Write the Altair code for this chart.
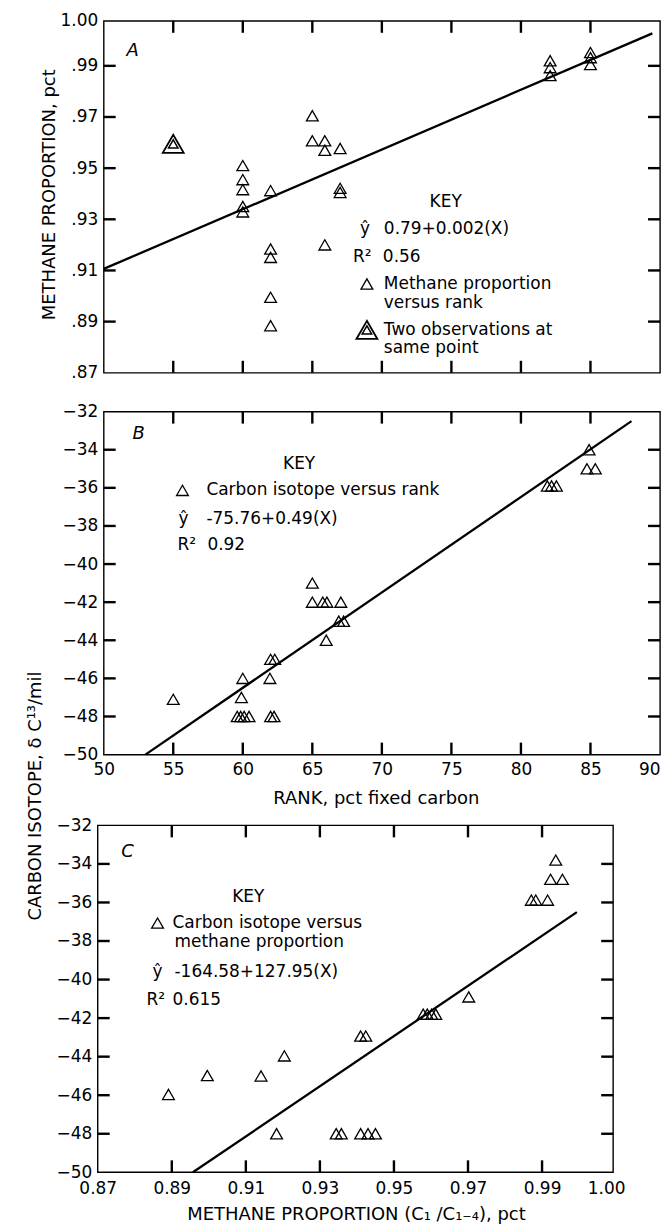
import json
import altair as alt
import pandas as pd

# ---------------- Panel A : methane proportion versus rank ----------------
a_rank = [60, 60, 60, 60, 60, 62, 62, 62, 62, 62, 65, 65, 65.9, 65.9, 65.9,
          67, 67, 67, 82.1, 82.1, 82.1, 85, 85, 85]
a_methane = [0.951, 0.9455, 0.9416, 0.935, 0.9329, 0.9412, 0.9184, 0.9151, 0.8995,
             0.8884, 0.9705, 0.9607, 0.9607, 0.957, 0.920, 0.9577, 0.9421, 0.9405,
             0.992, 0.9893, 0.9862, 0.9952, 0.9932, 0.9905]
a_double_rank = [55.0]
a_double_methane = [0.9595]
a_fit_rank = [50.0, 89.45]
a_fit_methane = [0.9106, 1.0027]
a_x_domain = [50, 90]
a_y_domain = [0.87, 1.0076]
a_y_ticks = [0.87, 0.89, 0.91, 0.93, 0.95, 0.97, 0.99, 1.0076]
a_y_labels = [".87", ".89", ".91", ".93", ".95", ".97", ".99", "1.00"]
a_x_inner = [55, 60, 65, 70, 75, 80, 85]
a_y_inner = [0.89, 0.91, 0.93, 0.95, 0.97, 0.99]

# ---------------- Panel B : carbon isotope versus rank ----------------
b_rank = [55, 60, 59.9, 59.6, 59.85, 60.1, 60.45, 62.0, 62.3, 61.95, 62.0, 62.25,
          65, 65, 65.75, 66.05, 67.05, 66.9, 67.25, 66.0, 81.9, 82.2, 82.55,
          84.9, 84.75, 85.35]
b_isotope = [-47.1, -46, -47, -48, -48, -48, -48, -45, -45, -46, -48, -48,
             -41, -42, -42, -42, -42, -43, -43, -44, -35.9, -35.9, -35.9,
             -34, -35, -35]
b_fit_rank = [53.0, 87.95]
b_fit_isotope = [-50.0, -32.5]
b_x_domain = [50, 90]
b_y_domain = [-50, -32]
b_x_ticks = [50, 55, 60, 65, 70, 75, 80, 85, 90]
b_y_ticks = [-50, -48, -46, -44, -42, -40, -38, -36, -34, -32]
b_x_inner = [55, 60, 65, 70, 75, 80, 85]
b_y_inner = [-48, -46, -44, -42, -40, -38, -36, -34]

# ---------------- Panel C : carbon isotope versus methane proportion ----------------
c_methane = [0.9937, 0.9923, 0.9955, 0.9871, 0.9883, 0.9915, 0.9702, 0.9579, 0.959,
             0.9602, 0.9613, 0.941, 0.9424, 0.9204, 0.8996, 0.9141, 0.8891, 0.9183,
             0.9344, 0.9358, 0.941, 0.943, 0.945]
c_isotope = [-33.8, -34.8, -34.8, -35.88, -35.88, -35.88, -40.9, -41.8, -41.8,
             -41.8, -41.8, -42.93, -42.93, -43.96, -44.98, -45.0, -45.96, -48,
             -48, -48, -48, -48, -48]
c_fit_methane = [0.8957, 0.9994]
c_fit_isotope = [-50.0, -36.5]
c_x_domain = [0.87, 1.0092]
c_y_domain = [-50, -32]
c_x_ticks = [0.87, 0.89, 0.91, 0.93, 0.95, 0.97, 0.99, 1.0092]
c_x_labels = ["0.87", "0.89", "0.91", "0.93", "0.95", "0.97", "0.99", "1.00"]
c_y_ticks = [-50, -48, -46, -44, -42, -40, -38, -36, -34, -32]
c_x_inner = [0.89, 0.91, 0.93, 0.95, 0.97, 0.99]
c_y_inner = [-48, -46, -44, -42, -40, -38, -36, -34]

# ---------------- texts ----------------
a_key = ["KEY", "ŷ", "0.79+0.002(X)", "R²", "0.56", "Methane proportion",
         "versus rank", "Two observations at", "same point"]
b_key = ["KEY", "Carbon isotope versus rank", "ŷ", "-75.76+0.49(X)", "R²", "0.92"]
c_key = ["KEY", "Carbon isotope versus", "methane proportion", "ŷ",
         "-164.58+127.95(X)", "R²", "0.615"]

FONT = "DejaVu Sans"
TL = 12
FRAME = 1.4
TICK_COLOR = "black"


def lbl_expr(ticks, labels):
    return f"{json.dumps(labels)}[indexof({json.dumps(ticks)}, datum.value)]"


def txt(s, x, y, align="left", size=17, style="normal"):
    return alt.Chart(pd.DataFrame({"t": [s]})).mark_text(
        align=align, baseline="middle", font=FONT, fontSize=size,
        fontStyle=style, color="black"
    ).encode(text="t:N", x=alt.value(x), y=alt.value(y))


def tri(x, y, size=140, sw=1.3):
    return alt.Chart(pd.DataFrame({"t": [0]})).mark_point(
        shape="triangle-up", filled=False, size=size, color="black",
        strokeWidth=sw, opacity=1
    ).encode(x=alt.value(x), y=alt.value(y))


def panel(W, H, xscale, yscale, xaxis, yaxis, px, py, fx, fy, xin, yin, extra,
          left=0, frame=False):
    X = lambda: alt.X("x:Q", scale=xscale, axis=xaxis)
    Y = lambda: alt.Y("y:Q", scale=yscale, axis=yaxis)
    dfx = pd.DataFrame({"x": xin})
    dfy = pd.DataFrame({"y": yin})
    rule = dict(color=TICK_COLOR, strokeWidth=2.4)
    layers = []
    if frame:
        layers.append(alt.Chart(pd.DataFrame({"t": [0]})).mark_rect(
            fillOpacity=0, stroke="black", strokeWidth=FRAME
        ).encode(x=alt.value(left), x2=alt.value(W), y=alt.value(0), y2=alt.value(H)))
    layers += [
        alt.Chart(pd.DataFrame({"x": fx, "y": fy})).mark_line(
            color="black", strokeWidth=2.3).encode(x=X(), y=Y()),
        alt.Chart(pd.DataFrame({"x": px, "y": py})).mark_point(
            shape="triangle-up", filled=False, size=140, color="black",
            strokeWidth=1.3, opacity=1).encode(x=X(), y=Y()),
        alt.Chart(dfy).mark_rule(**rule).encode(y=Y(), x=alt.value(left), x2=alt.value(left + TL)),
        alt.Chart(dfy).mark_rule(**rule).encode(y=Y(), x=alt.value(W - TL), x2=alt.value(W)),
        alt.Chart(dfx).mark_rule(**rule).encode(x=X(), y=alt.value(H - TL), y2=alt.value(H)),
        alt.Chart(dfx).mark_rule(**rule).encode(x=X(), y=alt.value(0), y2=alt.value(TL)),
    ]
    layers += extra(X, Y)
    ch = alt.layer(*layers).properties(width=W, height=H)
    if frame:
        ch = ch.properties(view=alt.ViewBackground(stroke="transparent"))
    return ch


# ---------- Panel A ----------
WA, HA = 558, 353
a_xscale = alt.Scale(domain=a_x_domain, nice=False, zero=False)
a_yscale = alt.Scale(domain=a_y_domain, nice=False, zero=False)
a_yaxis = alt.Axis(values=a_y_ticks, labelExpr=lbl_expr(a_y_ticks, a_y_labels),
                   ticks=False, domain=False, grid=False, labelPadding=6,
                   labelFlush=False,
                   title="METHANE PROPORTION, pct", titleX=-54, titleY=174,
                   titleAngle=270, titleAlign="center", titleBaseline="middle")


def a_extra(X, Y):
    dd = pd.DataFrame({"x": a_double_rank, "y": a_double_methane})
    return [
        alt.Chart(dd).mark_point(shape="triangle-up", filled=False, size=440,
                                 color="black", strokeWidth=1.8, opacity=1).encode(x=X(), y=Y()),
        alt.Chart(dd).mark_point(shape="triangle-up", filled=False, size=90,
                                 color="black", strokeWidth=1.5, opacity=1).encode(x=X(), y=Y()),
        txt("A", 29, 30, "center", 18, "italic"),
        txt(a_key[0], 343, 182, "center"),
        txt(a_key[1], 262, 209, "center"),
        txt(a_key[2], 281, 209),
        txt(a_key[3], 250, 237),
        txt(a_key[4], 280, 237),
        tri(264, 264),
        txt(a_key[5], 281, 264),
        txt(a_key[6], 281, 283),
        tri(264, 310, 440, 1.8),
        tri(264, 310, 90, 1.5),
        txt(a_key[7], 281, 310),
        txt(a_key[8], 281, 328),
    ]


chart_a = panel(WA, HA, a_xscale, a_yscale, None, a_yaxis, a_rank, a_methane,
                a_fit_rank, a_fit_methane, a_x_inner, a_y_inner, a_extra)

# ---------- Panel B ----------
WB, HB = 558, 344
b_xscale = alt.Scale(domain=b_x_domain, nice=False, zero=False)
b_yscale = alt.Scale(domain=b_y_domain, nice=False, zero=False)
b_xaxis = alt.Axis(values=b_x_ticks, ticks=False, domain=False, grid=False,
                   labelPadding=7, labelFlush=False,
                   labelAlign={"condition": {"test": "datum.value >= 90", "value": "right"},
                               "value": "center"},
                   title="RANK, pct fixed carbon", titleX=273, titleY=44,
                   titleAlign="center", titleBaseline="middle")
b_yaxis = alt.Axis(values=b_y_ticks, ticks=False, domain=False, grid=False,
                   labelPadding=6, labelFlush=False, title="")


def b_extra(X, Y):
    return [
        txt("B", 35, 22, "center", 18, "italic"),
        txt(b_key[0], 196, 53, "center"),
        tri(79, 79),
        txt(b_key[1], 103, 79),
        txt(b_key[2], 80, 108, "center"),
        txt(b_key[3], 103, 108),
        txt(b_key[4], 74, 134),
        txt(b_key[5], 104, 134),
    ]


chart_b = panel(WB, HB, b_xscale, b_yscale, b_xaxis, b_yaxis, b_rank, b_isotope,
                b_fit_rank, b_fit_isotope, b_x_inner, b_y_inner, b_extra)

# ---------- Panel C (frame sits 6 px left of panels A and B) ----------
SH = 6
WC, HC = 511, 348
c_xscale = alt.Scale(domain=c_x_domain, range=[-SH, WC], nice=False, zero=False)
c_yscale = alt.Scale(domain=c_y_domain, nice=False, zero=False)
c_xaxis = alt.Axis(values=c_x_ticks, labelExpr=lbl_expr(c_x_ticks, c_x_labels),
                   ticks=False, domain=False, grid=False, labelPadding=8,
                   labelFlush=False,
                   labelOffset={"condition": {"test": "datum.value > 1", "value": -7},
                                "value": 0},
                   title="METHANE PROPORTION (C₁ /C₁₋₄), pct", titleX=253, titleY=42,
                   titleAlign="center", titleBaseline="middle")
c_yaxis = alt.Axis(values=c_y_ticks, ticks=False, domain=False, grid=False,
                   labelPadding=6, offset=SH, labelFlush=False,
                   title="CARBON ISOTOPE, δ C¹³/mil",
                   titleX=-62, titleY=-30, titleAngle=270, titleAlign="center",
                   titleBaseline="middle")


def c_extra(X, Y):
    return [
        txt("C", 24, 27, "center", 18, "italic"),
        txt(c_key[0], 145, 72, "center"),
        tri(54, 98),
        txt(c_key[1], 69, 98),
        txt(c_key[2], 71, 117),
        txt(c_key[3], 54, 147, "center"),
        txt(c_key[4], 71, 147),
        txt(c_key[5], 43, 175),
        txt(c_key[6], 69, 175),
    ]


chart_c = panel(WC, HC, c_xscale, c_yscale, c_xaxis, c_yaxis, c_methane, c_isotope,
                c_fit_methane, c_fit_isotope, c_x_inner, c_y_inner, c_extra,
                left=-SH, frame=True)

# ---------- layout ----------
def gap(h):
    return alt.Chart(pd.DataFrame({"s": [0]})).mark_point(opacity=0).encode(
        x=alt.value(0), y=alt.value(0)
    ).properties(width=1, height=h, view=alt.ViewBackground(stroke="transparent"))


chart = alt.vconcat(chart_a, gap(39), chart_b, gap(71), chart_c,
                    spacing=0, bounds="flush").properties(
    padding={"left": 18, "top": 1, "right": 0, "bottom": 4}
).configure_view(
    stroke="black", strokeWidth=FRAME
).configure_axis(
    labelFont=FONT, labelFontSize=17, labelColor="black",
    titleFont=FONT, titleFontSize=18, titleColor="black", titleFontWeight="normal"
)

chart.save("out.html", embed_options={"renderer": "svg", "actions": False})
